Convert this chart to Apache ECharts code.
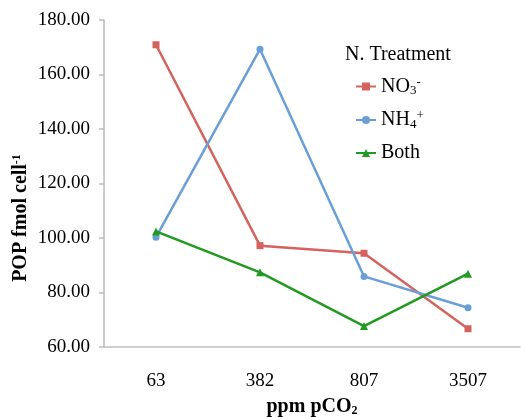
<!DOCTYPE html>
<html><head><meta charset="utf-8">
<script src="https://cdn.jsdelivr.net/npm/echarts@6/dist/echarts.min.js"></script>
<style>html,body{margin:0;padding:0;background:#fff}#c{width:521px;height:417px}</style>
</head><body><div id="c"></div>
<script>
const categories = ['63', '382', '807', '3507'];
const no3 = [170.9, 97.2, 94.4, 66.7];
const nh4 = [100.3, 169.3, 85.9, 74.4];
const both = [102.4, 87.4, 67.7, 86.9];
const seriesNames = ['NO3', 'NH4', 'Both'];

const FONT = '"Liberation Serif", "Times New Roman", serif';
const chart = echarts.init(document.getElementById('c'));
const subSup = {
  n: {fontFamily: FONT, fontSize: 20, color: '#000'},
  sub: {fontFamily: FONT, fontSize: 13, color: '#000', padding: [9, 0, 0, 0]},
  sup: {fontFamily: FONT, fontSize: 13, color: '#000', padding: [0, 0, 8, 0]}
};
const legendLabels = {NO3: '{n|NO}{sub|3}{sup|-}', NH4: '{n|NH}{sub|4}{sup|+}', Both: '{n|Both}'};
const colors = ['#d4625e', '#6a9fd6', '#229a22'];
chart.setOption({
  animation: false,
  color: colors,
  title: {text: 'N. Treatment', left: 340, top: 40,
    textStyle: {fontFamily: FONT, fontSize: 20, fontWeight: 'normal', color: '#000'}},
  legend: {orient: 'vertical', left: 350, top: 71, itemWidth: 20, itemHeight: 10, itemGap: 12,
    formatter: n => legendLabels[n],
    textStyle: {fontFamily: FONT, fontSize: 20, color: '#000', rich: subSup}},
  grid: {left: 104, right: 1, top: 20, bottom: 70, outerBoundsMode: 'none', containLabel: false},
  graphic: [{type: 'text', x: 21, y: 218, rotation: Math.PI / 2,
    style: {text: '{b|POP fmol cell}{s|-1}', align: 'center', verticalAlign: 'middle',
      rich: {
        b: {fontFamily: FONT, fontSize: 20, fontWeight: 'bold', fill: '#000'},
        s: {fontFamily: FONT, fontSize: 12, fontWeight: 'bold', fill: '#000', padding: [0, 0, 8, 0]}}}}],
  xAxis: {type: 'category', data: categories, boundaryGap: true,
    axisLine: {lineStyle: {color: '#bdbdbd', width: 1.5}},
    axisTick: {length: 5, lineStyle: {color: '#bdbdbd', width: 1.5}},
    axisLabel: {fontFamily: FONT, fontSize: 19, color: '#000', margin: 25},
    name: '{b|ppm pCO}{s|2}', nameLocation: 'middle', nameGap: 49,
    nameTextStyle: {rich: {
      b: {fontFamily: FONT, fontSize: 20, fontWeight: 'bold', color: '#000'},
      s: {fontFamily: FONT, fontSize: 12, fontWeight: 'bold', color: '#000', padding: [9, 0, 0, 0]}}}},
  yAxis: {type: 'value', min: 60, max: 180, interval: 20,
    splitLine: {show: false},
    axisLine: {show: true, lineStyle: {color: '#bdbdbd', width: 1.5}},
    axisTick: {show: true, length: 5, lineStyle: {color: '#bdbdbd', width: 1.5}},
    axisLabel: {fontFamily: FONT, fontSize: 19, color: '#000', margin: 14, formatter: v => v.toFixed(2)}},
  series: [
    {name: 'NO3', type: 'line', data: no3, symbol: 'rect', symbolSize: 7, lineStyle: {width: 2.5}},
    {name: 'NH4', type: 'line', data: nh4, symbol: 'circle', symbolSize: 7, lineStyle: {width: 2.5}},
    {name: 'Both', type: 'line', data: both, symbol: 'triangle', symbolSize: 8, lineStyle: {width: 2.5}}
  ]
});
</script></body></html>
